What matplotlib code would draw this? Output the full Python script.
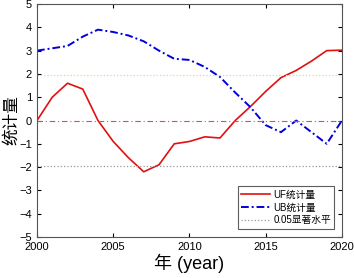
import numpy as np
import matplotlib
matplotlib.use('Agg')
import matplotlib.pyplot as plt

plt.rcParams['font.family'] = ['Liberation Sans', 'Noto Sans CJK SC']

years = list(range(2000, 2021))
uf = [0.0, 1.0, 1.6, 1.35, 0.0, -0.9, -1.6, -2.2, -1.9, -1.0, -0.9, -0.7,
      -0.75, 0.0, 0.6, 1.25, 1.84, 2.15, 2.55, 3.0, 3.02]
ub = [3.0, 3.1, 3.2, 3.6, 3.9, 3.8, 3.65, 3.4, 3.0, 2.65, 2.6, 2.3,
      1.87, 1.2, 0.57, -0.2, -0.5, 0.0, -0.5, -1.0, 0.0]
sig = 1.96

fig = plt.figure(figsize=(3.54, 2.78), dpi=100)
ax = fig.add_axes([0.1045, 0.1475, 0.8615, 0.838])

ax.plot(years, uf, '-', color='#e01010', lw=1.2, label='UF统计量')
ax.plot(years, ub, color='#0000dd', lw=1.4, ls=(0, (4, 1.5, 1, 1.5)), label='UB统计量')
ax.axhline(-sig, color='#999999', ls=':', lw=0.9, label='0.05显著水平')
ax.axhline(sig, color='#d8d8a0', ls=':', lw=0.9)
ax.axhline(0, color='#cc5a40', ls=(0, (5, 2.5, 1, 2.5)), lw=0.8)

ax.set_xlim(2000, 2020)
ax.set_ylim(-5, 5)
ax.set_xticks([2000, 2005, 2010, 2015, 2020])
ax.set_yticks(range(-5, 6))
ax.tick_params(direction='in', top=True, right=True, labelsize=8, length=3)
for s in ax.spines.values():
    s.set_color('#555555')
ax.set_xlabel('年 (year)', fontsize=13, labelpad=1)
ax.set_ylabel('统计量', fontsize=12, labelpad=0)

leg = ax.legend(loc='lower right', bbox_to_anchor=(0.975, 0.035), fontsize=7,
                frameon=True, fancybox=False, edgecolor='#333333',
                handlelength=3, borderpad=0.35, labelspacing=0.3,
                handletextpad=0.3, borderaxespad=0)
leg.get_frame().set_linewidth(0.8)

fig.savefig('out.png', dpi=100)
